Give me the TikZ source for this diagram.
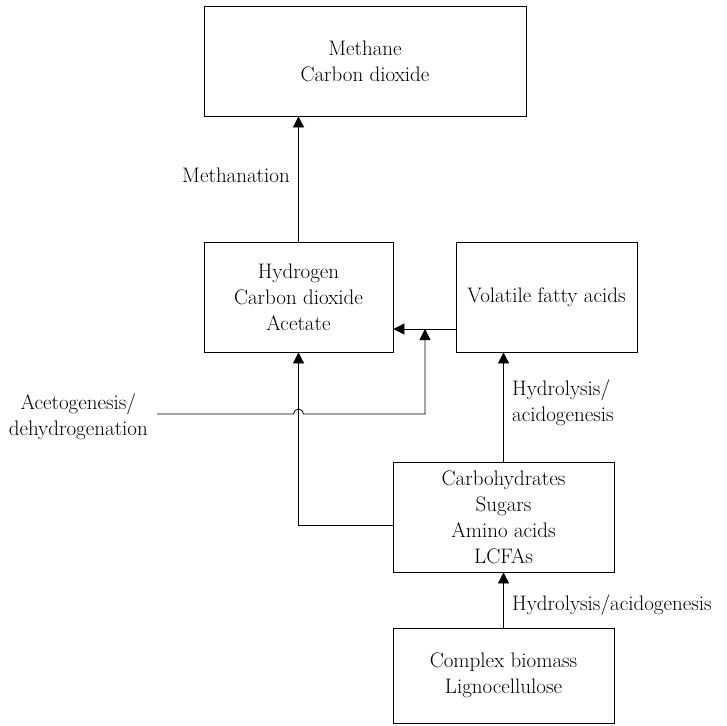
\documentclass[tikz,border=0pt]{standalone}
\usetikzlibrary{arrows.meta,calc}

\begin{document}
\begin{tikzpicture}[
  x=1pt,
  y=-1pt,
  >={Triangle[width=11pt,length=11pt]},
  box/.style={draw, line width=0.8pt, align=center, inner sep=0pt},
  link/.style={line width=0.8pt, ->},
  note/.style={inner sep=0pt},
  every node/.style={font=\fontsize{21}{26}\selectfont}
]
\useasboundingbox (0,0) rectangle (727,725);

% Stages of the digestion, top to bottom.
\node[box, minimum width=322pt, minimum height=110pt] (meth) at (365,61)
  {Methane\\Carbon dioxide};
\node[box, minimum width=189pt, minimum height=110pt] (hyd) at (298.5,297)
  {Hydrogen\\Carbon dioxide\\Acetate};
\node[box, minimum width=181pt, minimum height=110pt] (vfa) at (546.5,297)
  {Volatile fatty acids};
\node[box, minimum width=221pt, minimum height=110pt] (carb) at (503.5,517)
  {Carbohydrates\\Sugars\\Amino acids\\LCFAs};
\node[box, minimum width=221pt, minimum height=95pt] (bio) at (503.5,675.5)
  {Complex biomass\\Lignocellulose};

% Process names.
\node[note, anchor=east] (methan) at (290,175) {Methanation};
\node[note, anchor=west, align=left] (hydtop) at (512,403) {Hydrolysis/\\acidogenesis};
\node[note, anchor=west] (hydlow) at (512,605) {Hydrolysis/acidogenesis};
\node[note, anchor=east, align=center] (aceto) at (148,417) {Acetogenesis/\\dehydrogenation};

% Junction points of the acetogenesis route.
\coordinate (vfajoin) at (425,329);
\coordinate (acejoin) at (425,414);
\coordinate (carbout) at (393,525);

\draw[link] (bio.north) -- (carb.south);
\draw[link] (carb.north) -- (carb.north |- vfa.south);
\draw[link] (vfa.west |- vfajoin) -- (hyd.east |- vfajoin);
\draw[link] (hyd.north) -- (hyd.north |- meth.south);
\draw[link] (carb.west |- carbout) -| (hyd.south);

% Line from the label hops over the vertical one.
\draw[link] ($(aceto.east |- acejoin)+(9,0)$) -- ($(hyd.south |- acejoin)+(-5,0)$)
  arc[start angle=180, end angle=360, radius=5] -- (acejoin) -- (vfajoin);
\end{tikzpicture}
\end{document}
